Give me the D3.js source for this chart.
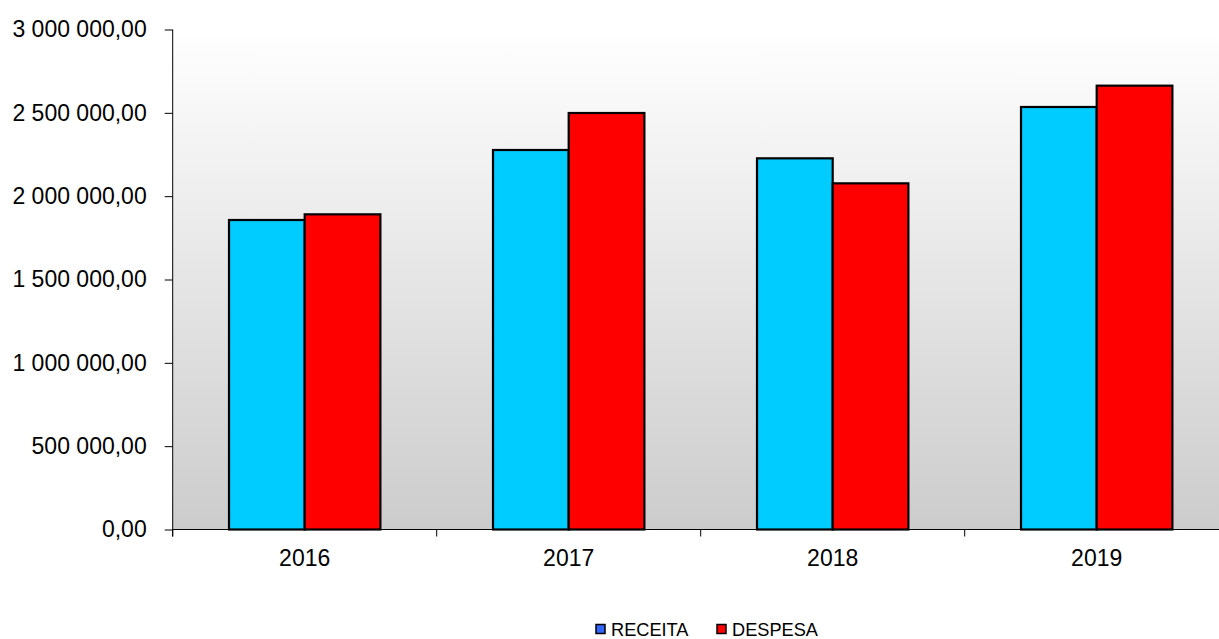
<!DOCTYPE html>
<html>
<head>
<meta charset="utf-8">
<script src="https://cdn.jsdelivr.net/npm/d3@7"></script>
<style>
  html, body { margin: 0; padding: 0; background: #fff; }
  svg { display: block; font-family: "Liberation Sans", Arial, sans-serif; }
</style>
</head>
<body>
<svg id="chart" width="1219" height="639"></svg>
<script>
const years = ["2016", "2017", "2018", "2019"];
const seriesNames = ["RECEITA", "DESPESA"];
const receita = [1857000, 2277000, 2227000, 2535000];
const despesa = [1891000, 2499000, 2077000, 2663000];
const yTicks = [0, 500000, 1000000, 1500000, 2000000, 2500000, 3000000];
const barColors = ["#00ccff", "#ff0000"];
const legendColors = ["#3366ff", "#ff0000"];

(function () {
const seriesValues = [receita, despesa];
const svg = d3.select("#chart");
const pLeft = 172.7, pRight = 1228.7, pTop = 29.5, pBottom = 529.5;

const x = d3.scaleBand().domain(years).range([pLeft, pRight]).paddingInner(0).paddingOuter(0);
const xSub = d3.scaleBand().domain(seriesNames).range([0, x.bandwidth()]).paddingInner(0).paddingOuter(0.744);
const y = d3.scaleLinear().domain([0, 3000000]).range([pBottom, pTop]);

const locale = d3.formatLocale({ decimal: ",", thousands: "\u00a0", grouping: [3], currency: ["", ""] });
const fmt = locale.format(",.2f");

// background gradient
const defs = svg.append("defs");
const grad = defs.append("linearGradient").attr("id", "bg").attr("x1", 0).attr("y1", 0).attr("x2", 0).attr("y2", 1);
grad.append("stop").attr("offset", "0%").attr("stop-color", "#ffffff");
grad.append("stop").attr("offset", "100%").attr("stop-color", "#cccccc");
svg.append("rect").attr("x", pLeft).attr("y", pTop).attr("width", pRight - pLeft).attr("height", pBottom - pTop).attr("fill", "url(#bg)");

// bars
years.forEach((yr, i) => {
  seriesNames.forEach((s, j) => {
    const v = seriesValues[j][i];
    svg.append("rect")
      .attr("x", x(yr) + xSub(s))
      .attr("y", y(v))
      .attr("width", xSub.bandwidth())
      .attr("height", y(0) - y(v))
      .attr("fill", barColors[j])
      .attr("stroke", "#000")
      .attr("stroke-width", 2.2);
  });
});

// y axis
const yAxis = d3.axisLeft(y).tickValues(yTicks).tickFormat(fmt).tickSize(8).tickPadding(18);
const gy = svg.append("g").attr("transform", `translate(${pLeft},0)`).call(yAxis);
gy.select(".domain").attr("d", `M0,${pTop}V${pBottom + 7}`).attr("stroke", "#000");
gy.selectAll(".tick line").attr("stroke", "#000");
gy.selectAll(".tick text").attr("font-size", 23).attr("fill", "#000").attr("font-family", "Liberation Sans, Arial, sans-serif");

// x axis
const gx = svg.append("g").attr("transform", `translate(0,${pBottom})`);
gx.append("line").attr("x1", pLeft).attr("x2", pRight).attr("y1", 0).attr("y2", 0).attr("stroke", "#000");
const boundaries = years.map(d => x(d)).concat([pRight]);
gx.selectAll("line.tk").data(boundaries).enter().append("line")
  .attr("class", "tk").attr("x1", d => d).attr("x2", d => d).attr("y1", 0).attr("y2", 7).attr("stroke", "#000");
gx.selectAll("text").data(years).enter().append("text")
  .attr("x", d => x(d) + x.bandwidth() / 2)
  .attr("y", 36.5)
  .attr("text-anchor", "middle")
  .attr("font-size", 23)
  .attr("fill", "#000")
  .text(d => d);

// legend
const legendItems = [
  { name: seriesNames[0], color: legendColors[0], sx: 596, tx: 611 },
  { name: seriesNames[1], color: legendColors[1], sx: 717, tx: 732 }
];
const lg = svg.append("g");
legendItems.forEach(it => {
  lg.append("rect").attr("x", it.sx).attr("y", 624.5).attr("width", 9).attr("height", 9)
    .attr("fill", it.color).attr("stroke", "#000").attr("stroke-width", 1.5);
  lg.append("text").attr("x", it.tx).attr("y", 635.5).attr("font-size", 18.2).attr("fill", "#000").text(it.name);
});
})();
</script>
</body>
</html>
